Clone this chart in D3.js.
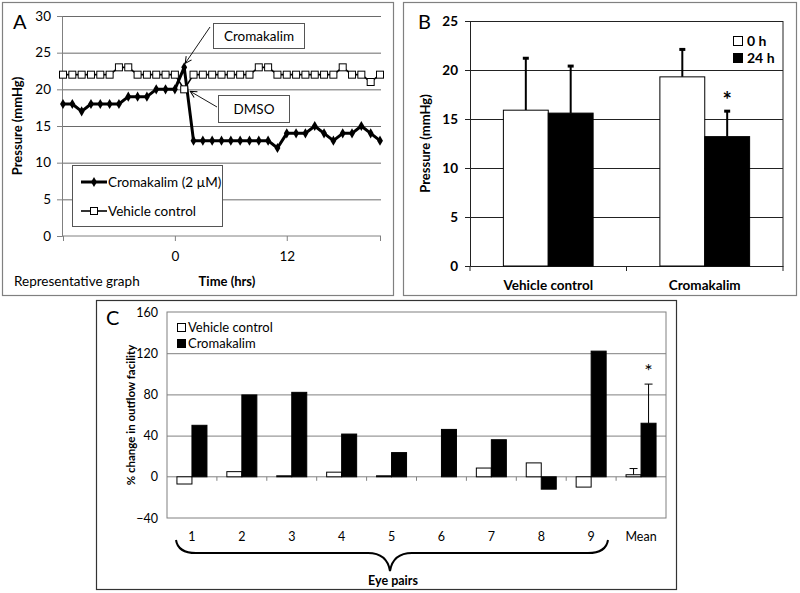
<!DOCTYPE html>
<html><head><meta charset="utf-8">
<script src="https://cdn.jsdelivr.net/npm/d3@7"></script>
<style>
body{margin:0;background:#fff}
svg{display:block}
text{font-family:Lato,"Open Sans",sans-serif;fill:#000}
</style>
</head><body>
<svg id="chart" width="800" height="593"></svg>
<script>
// ---------- Panel A data ----------
const hoursA = [-12,-11,-10,-9,-8,-7,-6,-5,-4,-3,-2,-1,0,1,2,3,4,5,6,7,8,9,10,11,12,13,14,15,16,17,18,19,20,21,22];
const cromakalimA = [18,18,17,18,18,18,18,19,19,19,20,20,20,23,13,13,13,13,13,13,13,13,13,12,14,14,14,15,14,13,14,14,15,14,13];
const vehicleA = [22,22,22,22,22,22,23,23,22,22,22,22,22,20,22,22,22,22,22,22,22,23,23,22,22,22,22,22,22,22,23,22,22,21,22];
const yTicksA = [0,5,10,15,20,25,30];
const xTickLabelsA = [0,12];

// ---------- Panel B data ----------
const groupsB = ["Vehicle control","Cromakalim"];
const seriesB = ["0 h","24 h"];
const mean0hB = [15.9,19.3];
const sd0hB = [5.3,2.8];
const mean24hB = [15.6,13.2];
const sd24hB = [4.8,2.6];
const yTicksB = [0,5,10,15,20,25];

// ---------- Panel C data ----------
const pairsC = ["1","2","3","4","5","6","7","8","9","Mean"];
const seriesC = ["Vehicle control","Cromakalim"];
const vehicleC = [-7,5,1,4.5,1,0,8.5,13.5,-10,2];
const cromakalimC = [50,79.5,82,41.5,23.5,46,36,-12,122,52];
const meanErrC = {"Vehicle control":6,"Cromakalim":38};
const yTicksC = [-40,0,40,80,120,160];

const svg = d3.select("#chart");
svg.append("rect").attr("width",800).attr("height",593).attr("fill","#fff");

// ================= PANEL A =================
const gA = svg.append("g");
gA.append("rect").attr("x",2.5).attr("y",2.5).attr("width",391).attr("height",293)
  .attr("fill","none").attr("stroke","#808080").attr("stroke-width",1.2);
const xA = d3.scaleLinear().domain([-12,22]).range([63,380]);
const yA = d3.scaleLinear().domain([0,30]).range([236,16]);
gA.append("g").attr("transform","translate(62,0)")
  .call(d3.axisLeft(yA).tickValues(yTicksA.filter(d=>d>0)).tickSize(-319).tickFormat(""))
  .call(g=>g.select(".domain").remove())
  .call(g=>g.selectAll("line").attr("stroke","#6a6a6a").attr("stroke-width",1));
gA.append("g").attr("transform","translate(62,0)")
  .call(d3.axisLeft(yA).tickValues(yTicksA).tickSize(5).tickPadding(6))
  .call(g=>g.select(".domain").attr("stroke","#808080"))
  .call(g=>g.selectAll("line").attr("stroke","#808080"))
  .call(g=>g.selectAll("text").attr("font-size",13.5).attr("font-family","Lato"));
gA.append("g").attr("transform","translate(0,236)")
  .call(d3.axisBottom(xA).tickValues([-12,0,12,22]).tickSize(5).tickPadding(10)
     .tickFormat(d=>xTickLabelsA.includes(d)?d:""))
  .call(g=>g.select(".domain").attr("stroke","#808080").attr("d","M62,0H381"))
  .call(g=>g.selectAll("line").attr("stroke","#808080"))
  .call(g=>g.selectAll("text").attr("font-size",13.5).attr("font-family","Lato"));

const lineA = d3.line().x((d,i)=>xA(hoursA[i])).y(d=>yA(d));
gA.append("path").datum(cromakalimA).attr("d",lineA).attr("fill","none")
  .attr("stroke","#000").attr("stroke-width",3).attr("stroke-linejoin","round");
gA.selectAll(".dia").data(cromakalimA).join("path")
  .attr("transform",(d,i)=>`translate(${xA(hoursA[i])},${yA(d)})`)
  .attr("d",d3.symbol(d3.symbolDiamond,30)).attr("fill","#000");
gA.append("path").datum(vehicleA).attr("d",lineA).attr("fill","none")
  .attr("stroke","#000").attr("stroke-width",1.6);
gA.selectAll(".sq").data(vehicleA).join("rect")
  .attr("x",(d,i)=>xA(hoursA[i])-3.5).attr("y",d=>yA(d)-3.5).attr("width",7).attr("height",7)
  .attr("fill","#fff").attr("stroke","#000").attr("stroke-width",1);

// legend A
gA.append("rect").attr("x",72.5).attr("y",165.5).attr("width",150).attr("height",61)
  .attr("fill","#fff").attr("stroke","#555");
gA.append("line").attr("x1",81).attr("x2",107).attr("y1",182).attr("y2",182).attr("stroke","#000").attr("stroke-width",3);
gA.append("path").attr("transform","translate(94,182)").attr("d",d3.symbol(d3.symbolDiamond,30)).attr("fill","#000");
gA.append("text").attr("x",108).attr("y",186.5).attr("font-size",13.5).text("Cromakalim (2 µM)");
gA.append("line").attr("x1",81).attr("x2",107).attr("y1",211).attr("y2",211).attr("stroke","#000").attr("stroke-width",1.6);
gA.append("rect").attr("x",90.5).attr("y",207.5).attr("width",7).attr("height",7).attr("fill","#fff").attr("stroke","#000");
gA.append("text").attr("x",108).attr("y",215.5).attr("font-size",13.5).text("Vehicle control");

// annotations
const defs = svg.append("defs");
defs.append("marker").attr("id","arr").attr("viewBox","0 0 10 10").attr("refX",9).attr("refY",5)
  .attr("markerWidth",9).attr("markerHeight",9).attr("orient","auto")
  .append("path").attr("d","M1,1L9,5L1,9").attr("fill","none").attr("stroke","#000").attr("stroke-width",1.2);
gA.append("line").attr("x1",210).attr("y1",27).attr("x2",xA(1)+1).attr("y2",yA(23)-4)
  .attr("stroke","#000").attr("stroke-width",0.9).attr("marker-end","url(#arr)");
gA.append("rect").attr("x",213.5).attr("y",23.5).attr("width",91).attr("height",25).attr("fill","#fff").attr("stroke","#555");
gA.append("text").attr("x",259).attr("y",40.5).attr("text-anchor","middle").attr("font-size",13.5).text("Cromakalim");
gA.append("line").attr("x1",217).attr("y1",107).attr("x2",xA(1)+6).attr("y2",yA(20)+2)
  .attr("stroke","#000").attr("stroke-width",0.9).attr("marker-end","url(#arr)");
gA.append("rect").attr("x",218.5).attr("y",95.5).attr("width",71).attr("height",27).attr("fill","#fff").attr("stroke","#555");
gA.append("text").attr("x",254).attr("y",113.5).attr("text-anchor","middle").attr("font-size",13.5).text("DMSO");

gA.append("text").attr("x",13).attr("y",29).attr("font-size",20).text("A");
gA.append("text").attr("transform","translate(22,126) rotate(-90)").attr("text-anchor","middle")
  .attr("font-size",13).attr("font-weight","bold").text("Pressure (mmHg)");
gA.append("text").attr("x",227).attr("y",286).attr("text-anchor","middle")
  .attr("font-size",13).attr("font-weight","bold").text("Time (hrs)");
gA.append("text").attr("x",14).attr("y",286).attr("font-size",13.5).text("Representative graph");

// ================= PANEL B =================
const gB = svg.append("g");
gB.append("rect").attr("x",403.5).attr("y",2.5).attr("width",393).attr("height",293)
  .attr("fill","none").attr("stroke","#808080").attr("stroke-width",1.2);
const xB = d3.scaleBand().domain(groupsB).range([470,783]);
const xB1 = d3.scaleBand().domain(seriesB).range([0,xB.bandwidth()]).paddingOuter(0.744);
const yB = d3.scaleLinear().domain([0,25]).range([266,21]);
gB.append("g").attr("transform","translate(470,0)")
  .call(d3.axisLeft(yB).tickValues(yTicksB.filter(d=>d>0)).tickSize(-313).tickFormat(""))
  .call(g=>g.select(".domain").remove())
  .call(g=>g.selectAll("line").attr("stroke","#222"));
gB.append("line").attr("x1",783).attr("x2",783).attr("y1",21).attr("y2",266).attr("stroke","#222");
gB.append("g").attr("transform","translate(470,0)")
  .call(d3.axisLeft(yB).tickValues(yTicksB).tickSize(5).tickPadding(7))
  .call(g=>g.select(".domain").attr("stroke","#222"))
  .call(g=>g.selectAll("line").attr("stroke","#222"))
  .call(g=>g.selectAll("text").attr("font-size",13.5).attr("font-weight","bold").attr("font-family","Lato"));
gB.append("g").attr("transform","translate(0,266)")
  .call(d3.axisBottom(xB).tickSize(0).tickPadding(14))
  .call(g=>g.select(".domain").attr("stroke","#222"))
  .call(g=>g.selectAll("text").attr("font-size",13.5).attr("font-weight","bold").attr("font-family","Lato"));
gB.selectAll(".bt").data([0,1,2]).join("line")
  .attr("x1",d=>d<2?xB(groupsB[d]):xB(groupsB[1])+xB.bandwidth())
  .attr("x2",d=>d<2?xB(groupsB[d]):xB(groupsB[1])+xB.bandwidth())
  .attr("y1",266).attr("y2",271).attr("stroke","#222");
const dataB = [];
groupsB.forEach((g,i)=>{
  dataB.push({g,s:"0 h",v:mean0hB[i],e:sd0hB[i]});
  dataB.push({g,s:"24 h",v:mean24hB[i],e:sd24hB[i]});
});
const colB = {"0 h":"#fff","24 h":"#000"};
gB.selectAll(".eb").data(dataB).join("line")
  .attr("x1",d=>xB(d.g)+xB1(d.s)+xB1.bandwidth()/2).attr("x2",d=>xB(d.g)+xB1(d.s)+xB1.bandwidth()/2)
  .attr("y1",d=>yB(d.v)).attr("y2",d=>yB(d.v+d.e)).attr("stroke","#000").attr("stroke-width",2);
gB.selectAll(".ec").data(dataB).join("line")
  .attr("x1",d=>xB(d.g)+xB1(d.s)+xB1.bandwidth()/2-3).attr("x2",d=>xB(d.g)+xB1(d.s)+xB1.bandwidth()/2+3)
  .attr("y1",d=>yB(d.v+d.e)).attr("y2",d=>yB(d.v+d.e)).attr("stroke","#000").attr("stroke-width",3);
gB.selectAll(".bb").data(dataB).join("rect")
  .attr("x",d=>xB(d.g)+xB1(d.s)).attr("width",xB1.bandwidth())
  .attr("y",d=>yB(d.v)).attr("height",d=>yB(0)-yB(d.v))
  .attr("fill",d=>colB[d.s]).attr("stroke","#000").attr("stroke-width",1);
gB.append("text").attr("x",xB("Cromakalim")+xB1("24 h")+xB1.bandwidth()/2).attr("y",yB(13.2+2.6)-3)
  .attr("text-anchor","middle").attr("font-size",22).attr("font-weight","bold").text("*");
seriesB.forEach((s,i)=>{
  gB.append("rect").attr("x",733.5).attr("y",36.5+i*17).attr("width",9).attr("height",9)
    .attr("fill",colB[s]).attr("stroke","#000");
  gB.append("text").attr("x",747).attr("y",45.5+i*17).attr("font-size",14).attr("font-weight","bold").text(s);
});
gB.append("text").attr("x",418).attr("y",29).attr("font-size",20).text("B");
gB.append("text").attr("transform","translate(430,143.5) rotate(-90)").attr("text-anchor","middle")
  .attr("font-size",13).attr("font-weight","bold").text("Pressure (mmHg)");

// ================= PANEL C =================
const gC = svg.append("g");
gC.append("rect").attr("x",96.5).attr("y",300.5).attr("width",580).attr("height",289)
  .attr("fill","#fff").attr("stroke","#333").attr("stroke-width",1.2);
const xC = d3.scaleBand().domain(pairsC).range([167,666]);
const xC1 = d3.scaleBand().domain(seriesC).range([0,xC.bandwidth()]).paddingOuter(0.663);
const yC = d3.scaleLinear().domain([-40,160]).range([518,312]);
gC.append("g").attr("transform","translate(167,0)")
  .call(d3.axisLeft(yC).tickValues([40,80,120]).tickSize(-499).tickFormat(""))
  .call(g=>g.select(".domain").remove())
  .call(g=>g.selectAll("line").attr("stroke","#808080"));
gC.append("rect").attr("x",167).attr("y",312).attr("width",499).attr("height",206)
  .attr("fill","none").attr("stroke","#808080");
gC.append("g").attr("transform","translate(167,0)")
  .call(d3.axisLeft(yC).tickValues(yTicksC).tickSize(0).tickPadding(9))
  .call(g=>g.select(".domain").remove())
  .call(g=>g.selectAll("text").attr("font-size",12.5).attr("font-family","Lato"));
gC.append("line").attr("x1",167).attr("x2",666).attr("y1",yC(0)).attr("y2",yC(0)).attr("stroke","#808080");
gC.selectAll(".ct").data(pairsC.slice(1)).join("line")
  .attr("x1",d=>xC(d)).attr("x2",d=>xC(d)).attr("y1",yC(0)).attr("y2",yC(0)+4).attr("stroke","#808080");
gC.selectAll(".cl").data(pairsC).join("text")
  .attr("x",d=>xC(d)+xC.bandwidth()/2).attr("y",540.5).attr("text-anchor","middle")
  .attr("font-size",12.5).text(d=>d);
const dataC = [];
pairsC.forEach((p,i)=>{
  dataC.push({p,s:"Vehicle control",v:vehicleC[i]});
  dataC.push({p,s:"Cromakalim",v:cromakalimC[i]});
});
const colC = {"Vehicle control":"#fff","Cromakalim":"#000"};
seriesC.forEach((s,j)=>{
  const v = (s==="Vehicle control"?vehicleC:cromakalimC)[pairsC.indexOf("Mean")];
  const cx = xC("Mean")+xC1(s)+xC1.bandwidth()/2;
  gC.append("line").attr("x1",cx).attr("x2",cx).attr("y1",yC(v)).attr("y2",yC(v+meanErrC[s])).attr("stroke","#000").attr("stroke-width",1);
  gC.append("line").attr("x1",cx-4).attr("x2",cx+4).attr("y1",yC(v+meanErrC[s])).attr("y2",yC(v+meanErrC[s])).attr("stroke","#000").attr("stroke-width",1);
});
gC.selectAll(".cb").data(dataC).join("rect")
  .attr("x",d=>xC(d.p)+xC1(d.s)).attr("width",xC1.bandwidth())
  .attr("y",d=>yC(Math.max(0,d.v))).attr("height",d=>Math.abs(yC(d.v)-yC(0)))
  .attr("fill",d=>colC[d.s]).attr("stroke",d=>d.v===0?"none":"#000").attr("stroke-width",1);
gC.append("text").attr("x",xC("Mean")+xC1("Cromakalim")+xC1.bandwidth()/2).attr("y",yC(52+38)-6)
  .attr("text-anchor","middle").attr("font-size",20).text("*");
seriesC.forEach((s,i)=>{
  gC.append("rect").attr("x",177.5).attr("y",323.5+i*16).attr("width",8).attr("height",8)
    .attr("fill",colC[s]).attr("stroke","#000");
  gC.append("text").attr("x",188).attr("y",331.5+i*16).attr("font-size",13).text(s);
});
gC.append("path").attr("d","M176,540 Q178,553 196,553 L368,553 Q387,553 390,571 Q393,553 412,553 L588,553 Q606,553 608,540")
  .attr("fill","none").attr("stroke","#000").attr("stroke-width",2);
gC.append("text").attr("x",393).attr("y",585).attr("text-anchor","middle")
  .attr("font-size",12.5).attr("font-weight","bold").text("Eye pairs");
gC.append("text").attr("x",106).attr("y",325).attr("font-size",20).text("C");
gC.append("text").attr("transform","translate(135,415) rotate(-90)").attr("text-anchor","middle")
  .attr("font-size",11.5).attr("font-weight","bold").text("% change in outflow facility");
</script>
</body></html>
